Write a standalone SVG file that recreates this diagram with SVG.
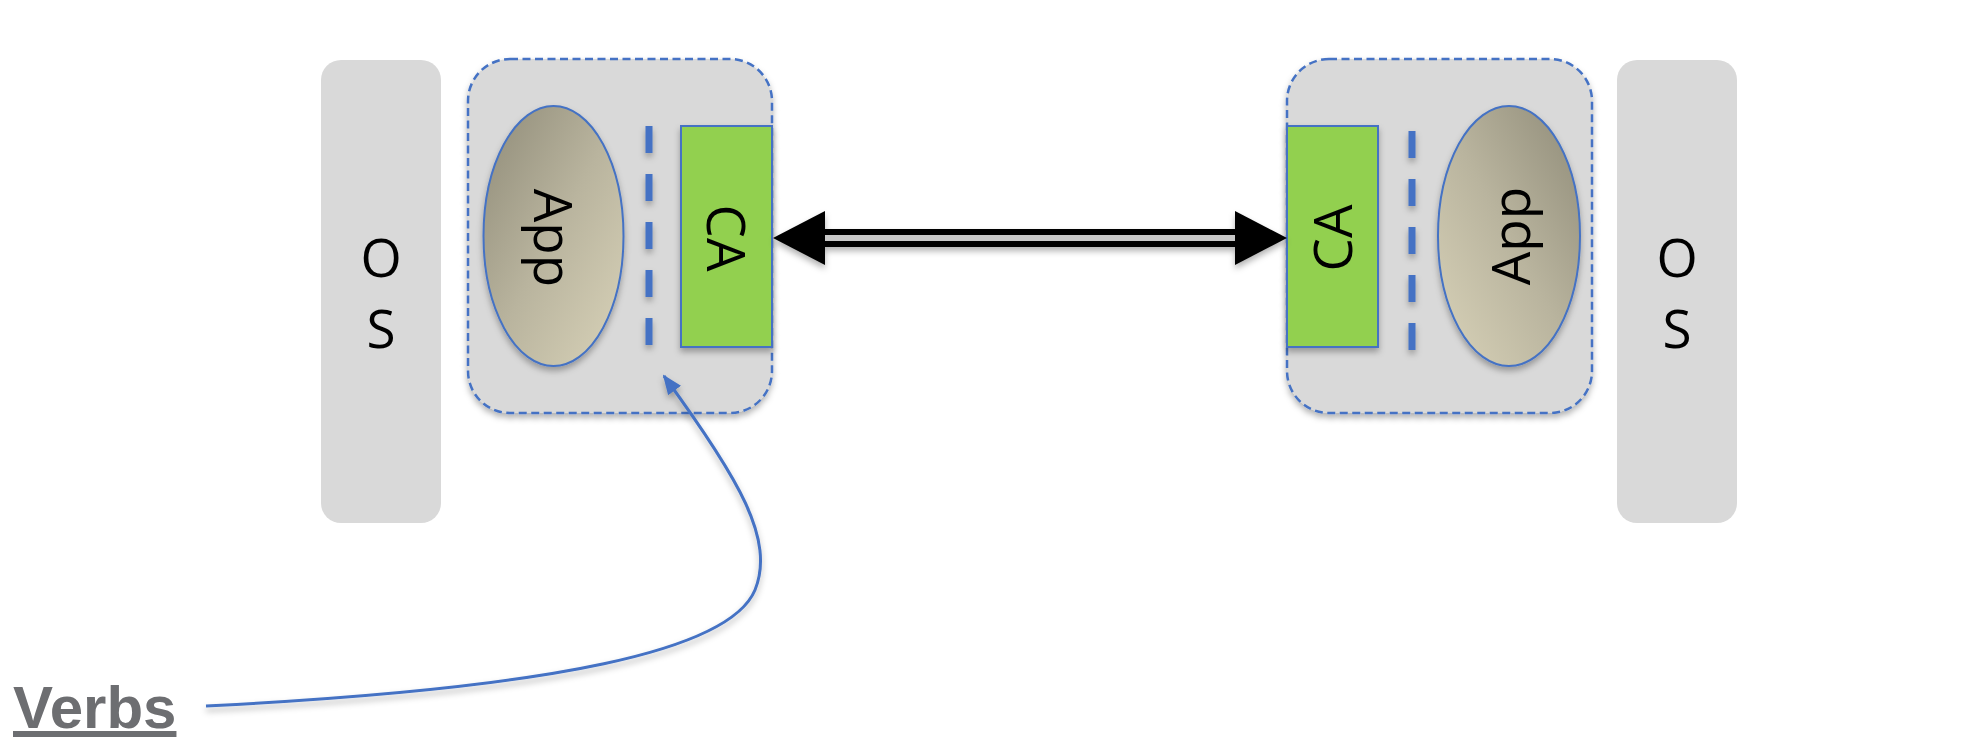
<svg xmlns="http://www.w3.org/2000/svg" width="1984" height="748" viewBox="0 0 1984 748">
  <style>
    .os { fill: #d9d9d9; }
    .osText { font-family: "Open Sans", "Liberation Sans", sans-serif; font-size: 53px; fill: #000; text-anchor: middle; }
    .group { fill: #d9d9d9; stroke: #4472c4; stroke-width: 2.5; stroke-dasharray: 8 4.5; }
    .ca { fill: #92d050; stroke: #4472c4; stroke-width: 2; }
    .label { font-family: "Open Sans", "Liberation Sans", sans-serif; font-size: 53px; fill: #000; text-anchor: middle; }
    .sep { stroke: #4472c4; stroke-width: 7; stroke-dasharray: 27 21; fill: none; }
    .app { stroke: #4472c4; stroke-width: 2; }
    .link { stroke: #4472c4; stroke-width: 3; fill: none; }
    .verbs { font-family: "Liberation Sans", Arial, sans-serif; font-weight: bold; font-size: 60px; fill: #6d6e71; text-decoration: underline; }
  </style>
  <defs>
    <filter id="shadow" x="-20%" y="-20%" width="140%" height="140%">
      <feDropShadow dx="0" dy="4" stdDeviation="3" flood-color="#000" flood-opacity="0.3"/>
    </filter>
    <!-- shadow for thin straight strokes, whose bounding box has no width -->
    <filter id="lineShadow" filterUnits="userSpaceOnUse" x="0" y="0" width="1984" height="748">
      <feDropShadow dx="0" dy="4" stdDeviation="3" flood-color="#000" flood-opacity="0.3"/>
    </filter>
    <linearGradient id="appLeft" x1="0" y1="0" x2="1" y2="1">
      <stop offset="0" stop-color="#8f8b78"/>
      <stop offset="0.5" stop-color="#b9b49e"/>
      <stop offset="1" stop-color="#d9d3b9"/>
    </linearGradient>
    <linearGradient id="appRight" x1="1" y1="0" x2="0" y2="1">
      <stop offset="0" stop-color="#8f8b78"/>
      <stop offset="0.5" stop-color="#b9b49e"/>
      <stop offset="1" stop-color="#d9d3b9"/>
    </linearGradient>
    <marker id="blueHead" viewBox="0 0 20 16" refX="18" refY="8" markerWidth="20" markerHeight="16" markerUnits="userSpaceOnUse" orient="auto">
      <path d="M0,0 L20,8 L0,16 Z" fill="#4472c4"/>
    </marker>
  </defs>

  <rect width="1984" height="748" fill="#fff"/>

  <!-- left OS -->
  <g id="os-left">
    <rect class="os" x="321" y="60" width="120" height="463" rx="20"/>
    <text class="osText" x="381" y="277">O</text>
    <text class="osText" x="381" y="348">S</text>
  </g>

  <!-- left host -->
  <g id="host-left">
    <rect class="group" x="468" y="59" width="304" height="354" rx="42" filter="url(#shadow)"/>
    <g id="app-left">
      <ellipse class="app" cx="553.5" cy="236" rx="70" ry="130" fill="url(#appLeft)" filter="url(#shadow)"/>
      <text class="label" transform="translate(553,238) rotate(90)" y="19">App</text>
    </g>
    <line class="sep" x1="649" y1="126" x2="649" y2="346" filter="url(#lineShadow)"/>
    <g id="ca-left">
      <rect class="ca" x="681" y="126" width="91" height="221" filter="url(#shadow)"/>
      <text class="label" transform="translate(726,238) rotate(90)" y="19">CA</text>
    </g>
  </g>

  <!-- right host -->
  <g id="host-right">
    <rect class="group" x="1287" y="59" width="305" height="354" rx="42" filter="url(#shadow)"/>
    <g id="ca-right">
      <rect class="ca" x="1287" y="126" width="91" height="221" filter="url(#shadow)"/>
      <text class="label" transform="translate(1333,238) rotate(-90)" y="19">CA</text>
    </g>
    <line class="sep" x1="1412" y1="131" x2="1412" y2="350" filter="url(#lineShadow)"/>
    <g id="app-right">
      <ellipse class="app" cx="1509" cy="236" rx="71" ry="130" fill="url(#appRight)" filter="url(#shadow)"/>
      <text class="label" transform="translate(1511,236) rotate(-90)" y="19">App</text>
    </g>
  </g>

  <!-- right OS -->
  <g id="os-right">
    <rect class="os" x="1617" y="60" width="120" height="463" rx="20"/>
    <text class="osText" x="1677" y="277">O</text>
    <text class="osText" x="1677" y="348">S</text>
  </g>

  <!-- Verbs label -->
  <g id="verbs">
    <text class="verbs" x="13" y="728">Verbs</text>
  </g>

  <!-- connectors -->
  <g id="connectors">
    <g id="ca-link" filter="url(#lineShadow)">
      <line x1="820" y1="238" x2="1240" y2="238" stroke="#000" stroke-width="18"/>
      <line x1="818" y1="238" x2="1242" y2="238" stroke="#c8c8c8" stroke-width="6"/>
      <polygon points="773,238 825,211 825,265" fill="#000"/>
      <polygon points="1287,238 1235,211 1235,265" fill="#000"/>
    </g>
    <path class="link" d="M206,706 C560,688 730,650 755,590 C775,540 740,480 664,376" marker-end="url(#blueHead)" filter="url(#lineShadow)"/>
  </g>
</svg>
